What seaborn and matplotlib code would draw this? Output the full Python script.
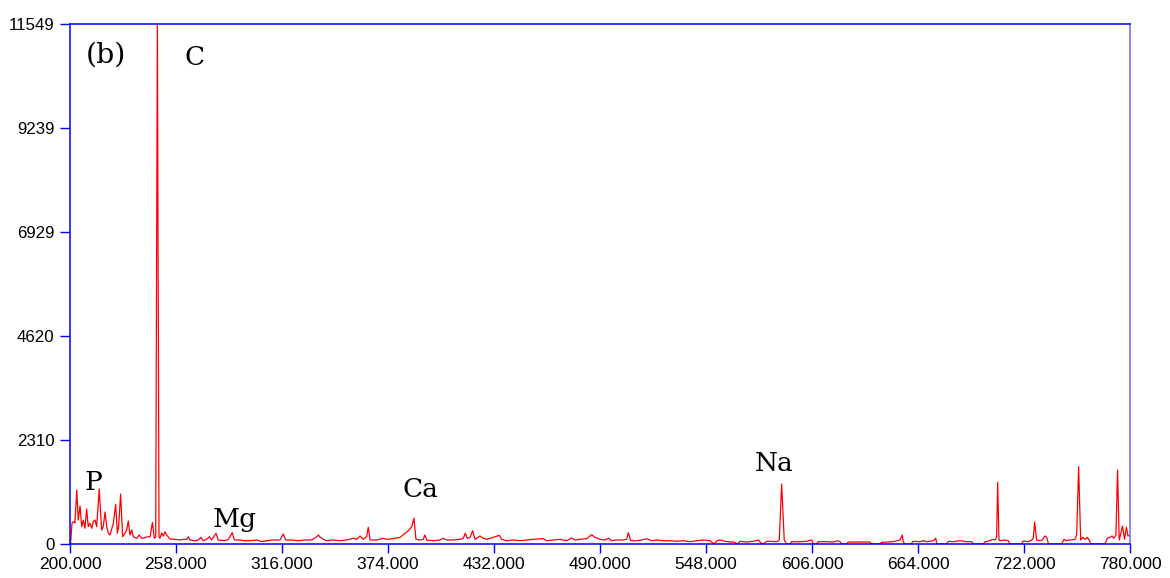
import matplotlib
matplotlib.use("Agg")
import matplotlib.pyplot as plt
import seaborn as sns
import pandas as pd

# Emission spectrum (wavelength in nm, intensity in counts)
wavelength = [
    200.0, 200.3, 201.1, 201.9, 202.7, 203.7, 204.5, 205.5, 206.4, 207.3,
    208.2, 209.1, 210.0, 210.9, 211.9, 212.7, 213.7, 214.6, 216.0, 217.3,
    218.2, 219.2, 220.1, 221.0, 221.9, 223.7, 225.0, 225.9, 226.6, 227.7,
    228.8, 230.1, 231.0, 231.9, 232.8, 233.8, 234.6, 236.5, 237.8, 239.2,
    241.0, 242.8, 243.8, 245.1, 246.1, 246.9, 247.8, 248.7, 249.2, 250.2,
    251.1, 252.0, 252.9, 254.7, 257.5, 260.2, 262.0, 263.9, 264.7, 265.7,
    268.4, 270.2, 271.7, 272.9, 274.8, 276.2, 277.5, 279.9, 281.1, 284.8,
    286.6, 288.8, 289.9, 293.0, 295.8, 298.5, 302.2, 304.9, 307.6, 311.2,
    314.9, 316.7, 318.0, 321.3, 324.9, 328.6, 332.2, 335.0, 335.9, 336.8,
    338.6, 340.4, 344.1, 347.7, 351.4, 355.0, 356.9, 358.7, 360.5, 362.3,
    363.2, 364.2, 367.8, 371.4, 373.2, 376.9, 380.6, 383.3, 385.1, 387.0,
    388.2, 389.3, 391.5, 393.3, 394.2, 395.2, 398.8, 402.5, 404.2, 406.1,
    409.7, 413.4, 415.2, 416.3, 417.4, 418.9, 420.3, 421.6, 423.4, 424.3,
    426.1, 428.0, 431.6, 434.9, 436.2, 438.9, 442.6, 446.2, 449.9, 453.5,
    459.0, 460.8, 464.5, 468.1, 471.8, 474.5, 476.3, 479.1, 482.7, 485.4,
    487.3, 490.0, 492.7, 494.6, 496.4, 499.1, 502.7, 504.6, 505.5, 506.8,
    510.0, 512.8, 515.5, 518.2, 521.0, 524.6, 528.3, 531.9, 535.6, 539.2,
    542.9, 546.5, 550.2, 552.4, 553.9, 555.7, 558.4, 561.1, 563.3, 565.3,
    566.6, 570.3, 573.9, 576.7, 577.9, 579.3, 581.2, 583.0, 586.7, 588.1,
    589.4, 590.8, 592.1, 594.0, 594.8, 599.4, 603.1, 605.8, 606.7, 608.5,
    609.4, 614.0, 617.6, 620.4, 621.3, 622.2, 625.0, 625.8, 630.4, 635.9,
    637.7, 638.6, 643.2, 644.1, 650.5, 654.1, 655.4, 655.9, 656.9, 660.5,
    661.1, 665.1, 666.9, 668.8, 672.4, 673.7, 674.3, 679.7, 680.6, 683.3,
    687.0, 690.6, 693.4, 694.3, 699.8, 700.7, 703.4, 704.9, 706.1, 707.0,
    707.6, 708.3, 708.9, 711.6, 713.4, 714.3, 720.7, 721.6, 724.3, 726.2,
    727.1, 727.8, 728.9, 730.7, 732.0, 733.5, 734.4, 735.3, 735.8, 742.6,
    743.9, 744.9, 747.1, 749.9, 750.8, 751.9, 753.0, 754.1, 755.4, 756.7,
    757.8, 758.7, 766.3, 767.6, 769.1, 770.2, 771.2, 772.3, 773.2, 774.1,
    774.8, 775.9, 777.0, 778.0, 778.9, 780.0,
]
intensity = [
    0, 0, 466, 495, 466, 1200, 533, 844, 384, 533,
    349, 777, 384, 460, 349, 495, 533, 384, 1222, 311,
    384, 711, 384, 238, 200, 460, 882, 238, 384, 1110,
    162, 238, 311, 511, 200, 311, 162, 127, 200, 127,
    140, 162, 162, 478, 127, 155, 11549, 155, 127, 244,
    178, 273, 200, 111, 104, 89, 104, 104, 162, 89,
    73, 89, 149, 73, 104, 162, 89, 238, 89, 73,
    104, 251, 89, 89, 73, 73, 89, 51, 73, 89,
    89, 222, 89, 89, 73, 89, 89, 162, 200, 155,
    104, 73, 89, 73, 89, 127, 104, 178, 104, 162,
    371, 89, 89, 127, 104, 118, 149, 238, 295, 384,
    571, 104, 89, 104, 200, 89, 73, 89, 127, 89,
    89, 104, 127, 238, 127, 149, 295, 104, 149, 178,
    127, 104, 149, 193, 104, 73, 89, 73, 89, 104,
    118, 73, 89, 104, 73, 133, 89, 104, 118, 207,
    149, 104, 89, 127, 73, 89, 89, 104, 251, 73,
    73, 89, 118, 73, 89, 73, 73, 60, 73, 51,
    73, 89, 73, 0, 73, 89, 60, 44, 44, 0,
    60, 44, 60, 89, 29, 0, 60, 60, 51, 89,
    1333, 89, 0, 0, 51, 51, 60, 89, 0, 0,
    51, 51, 44, 73, 51, 0, 0, 44, 44, 44,
    44, 0, 0, 38, 51, 89, 200, 51, 0, 0,
    60, 51, 73, 51, 73, 127, 0, 0, 60, 51,
    73, 51, 51, 0, 0, 51, 73, 104, 89, 149,
    1370, 89, 73, 89, 73, 0, 0, 67, 51, 89,
    127, 489, 89, 73, 89, 178, 149, 16, 0, 0,
    104, 73, 89, 104, 200, 1717, 89, 149, 104, 149,
    73, 0, 0, 127, 149, 178, 127, 200, 1643, 89,
    200, 400, 104, 371, 178, 200,
]

x_ticks = [200, 258, 316, 374, 432, 490, 548, 606, 664, 722, 780]
y_ticks = [0, 2310, 4620, 6929, 9239, 11549]

# Element labels: (text, wavelength of left edge, baseline height)
labels = [
    ("(b)", 208.8, 10683),
    ("C", 262.9, 10638),
    ("P", 208.2, 1199),
    ("Mg", 278.2, 378),
    ("Ca", 382.2, 1044),
    ("Na", 574.8, 1621),
]

spectrum = pd.DataFrame({"wavelength": wavelength, "intensity": intensity})

sns.set_style("white")
fig = plt.figure(figsize=(11.70, 5.78), dpi=100)
ax = fig.add_axes([70 / 1170, 34 / 578, 1060 / 1170, 520 / 578])

sns.lineplot(data=spectrum, x="wavelength", y="intensity", ax=ax,
             color="#ff0000", linewidth=0.9, estimator=None, sort=False)

ax.set_xlim(200, 780)
ax.set_ylim(0, 11549)
ax.set_xticks(x_ticks)
ax.set_xticklabels([f"{v:.3f}" for v in x_ticks])
ax.set_yticks(y_ticks)
ax.set_yticklabels([str(v) for v in y_ticks])
ax.set_xlabel("")
ax.set_ylabel("")

for side in ("left", "bottom", "top"):
    ax.spines[side].set_color("#0000ff")
    ax.spines[side].set_linewidth(1.1)
ax.spines["right"].set_color("#8080ff")
ax.spines["right"].set_linewidth(1.3)
for side in ax.spines:
    ax.spines[side].set_visible(True)

ax.tick_params(axis="y", direction="out", length=7.2, width=1.0,
               color="#0000ff", labelsize=12.2, pad=4,
               left=True, right=False)
ax.tick_params(axis="x", direction="out", length=6.8, width=1.0,
               color="#0000ff", labelsize=12.5, pad=2.5,
               bottom=True, top=False)
for lab in ax.get_xticklabels() + ax.get_yticklabels():
    lab.set_fontfamily("Liberation Sans")
    lab.set_color("black")

for text, wl, h in labels:
    size = 20.5 if text == "(b)" else 19
    ax.text(wl, h, text, ha="left", va="baseline", fontsize=size,
            family="DejaVu Serif", color="black")

fig.savefig("out.png", dpi=100, facecolor="white")
